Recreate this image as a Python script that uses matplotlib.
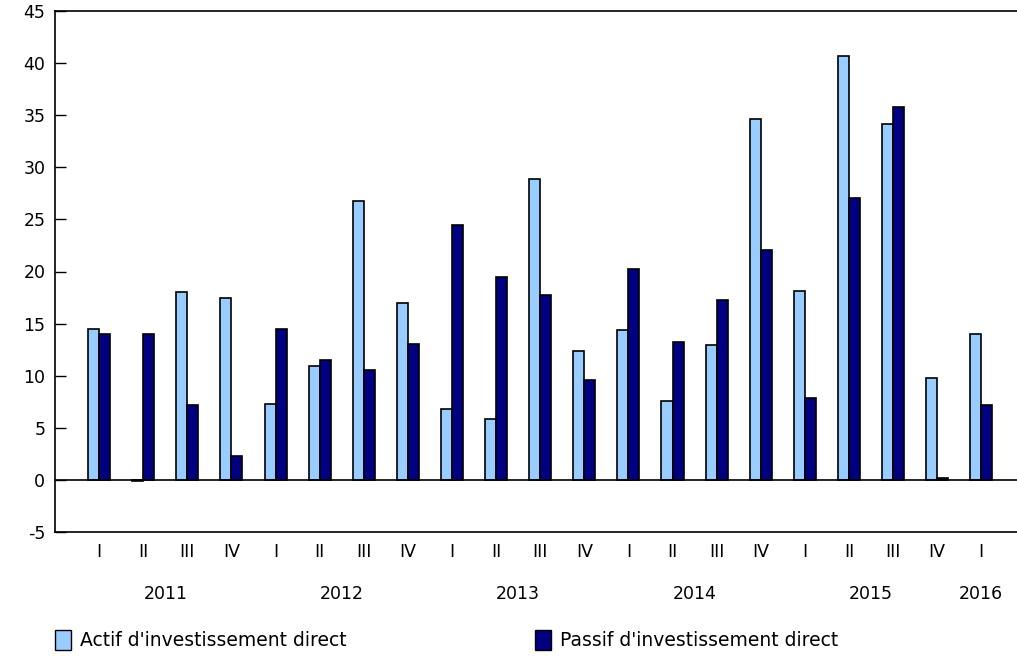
import matplotlib
matplotlib.use("Agg")
import matplotlib.pyplot as plt
from matplotlib.patches import Patch
from matplotlib.transforms import blended_transform_factory
import numpy as np

plt.rcParams['font.family'] = ['DejaVu Sans']
plt.rcParams['axes.unicode_minus'] = False

quarters = ["I", "II", "III", "IV", "I", "II", "III", "IV", "I", "II", "III", "IV",
            "I", "II", "III", "IV", "I", "II", "III", "IV", "I"]
years = ["2011", "2012", "2013", "2014", "2015", "2016"]
year_positions = [1.5, 5.5, 9.5, 13.5, 17.5, 20]

actif = [14.5, -0.1, 18.0, 17.5, 7.3, 10.9, 26.8, 17.0, 6.8, 5.8, 28.9,
         12.4, 14.4, 7.6, 12.9, 34.6, 18.1, 40.7, 34.2, 9.8, 14.0]
passif = [14.0, 14.0, 7.2, 2.3, 14.5, 11.5, 10.5, 13.0, 24.5, 19.5, 17.7,
          9.6, 20.2, 13.2, 17.3, 22.1, 7.9, 27.1, 35.8, 0.2, 7.2]

series_names = ["Actif d'investissement direct", "Passif d'investissement direct"]
colors = ["#99CCFF", "#000080"]

fig = plt.figure(figsize=(10.17, 6.56), dpi=100)
ax = fig.add_axes([55/1017, (656-532)/656, 1 - 55/1017, (532-11)/656])

x = np.arange(len(quarters))
w = 0.25
ax.bar(x - w/2, actif, width=w, color=colors[0], edgecolor="black", linewidth=1.2, zorder=3)
ax.bar(x + w/2, passif, width=w, color=colors[1], edgecolor="black", linewidth=1.2, zorder=3)

ax.axhline(0, color="black", linewidth=1.2, zorder=4)

ax.set_xlim(-1, 20.81)
ax.set_ylim(-5, 45)
ax.set_yticks(np.arange(-5, 46, 5))
ax.tick_params(axis="y", direction="in", length=8, width=1, pad=7, labelsize=12.5)
ax.set_xticks(x)
ax.set_xticklabels(quarters)
ax.tick_params(axis="x", length=0, pad=8, labelsize=12.5)

for s in ["left", "top", "bottom"]:
    ax.spines[s].set_linewidth(1.2)
ax.spines["right"].set_visible(False)

trans = blended_transform_factory(ax.transData, fig.transFigure)
for yr, pos in zip(years, year_positions):
    ax.text(pos, (656-594)/656, yr, transform=trans, ha="center", va="center", fontsize=12.5)

leg_x = [55/1017, 535/1017]
for name, col, lx in zip(series_names, colors, leg_x):
    h = Patch(facecolor=col, edgecolor="black", linewidth=1)
    fig.legend([h], [name], loc="center left", bbox_to_anchor=(lx, (656-640)/656),
               frameon=False, fontsize=13.5, handlelength=0.85, handleheight=1.3,
               handletextpad=0.5, borderaxespad=0, borderpad=0)

fig.savefig("out.png", dpi=100)
